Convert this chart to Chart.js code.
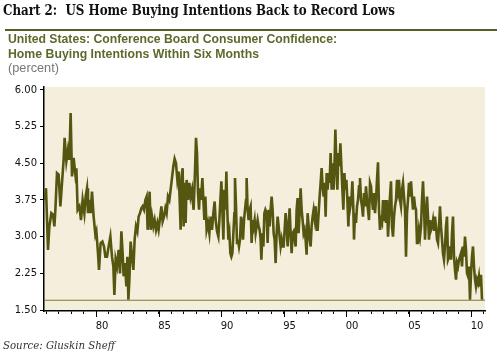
<!DOCTYPE html>
<html>
<head>
<meta charset="utf-8">
<script src="https://cdn.jsdelivr.net/npm/chart.js@4.4.0/dist/chart.umd.min.js"></script>
<style>
  html, body { margin:0; padding:0; background:#fff; }
  #wrap { position:relative; width:500px; height:357px; overflow:hidden; }
  canvas { position:absolute; left:0; top:0; }
  .t { position:absolute; white-space:nowrap; transform-origin:0 0; display:inline-block; }
  #title { left:3px; top:2px; font-family:"DejaVu Serif", serif; font-weight:bold; font-size:14px; line-height:16px; color:#111; }
  #rule { position:absolute; left:5px; top:29px; width:492px; height:2px; background:#5b5e22; }
  #sub1 { left:8px; top:32px; font-family:"Liberation Sans", Arial, sans-serif; font-weight:bold; font-size:12px; line-height:14px; color:#5b6a2b; }
  #sub2 { left:8px; top:47px; font-family:"Liberation Sans", Arial, sans-serif; font-weight:bold; font-size:12px; line-height:14px; color:#5b6a2b; }
  #sub3 { left:8px; top:61px; font-family:"Liberation Sans", Arial, sans-serif; font-size:12px; line-height:14px; color:#777; }
  #src { left:3px; top:339px; font-family:"DejaVu Serif", serif; font-style:italic; font-size:11px; line-height:14px; color:#333; }
</style>
</head>
<body>
<div id="wrap">
  <canvas id="c" width="500" height="357"></canvas>
  <div class="t" id="title" data-w="392">Chart 2:&nbsp; US Home Buying Intentions Back to Record Lows</div>
  <div id="rule"></div>
  <div class="t" id="sub1" data-w="329">United States: Conference Board Consumer Confidence:</div>
  <div class="t" id="sub2" data-w="251">Home Buying Intentions Within Six Months</div>
  <div class="t" id="sub3" data-w="51">(percent)</div>
  <div class="t" id="src" data-w="112">Source: Gluskin Sheff</div>
</div>
<script>
// ---- data (decimal year, percent) ----
const dates = [
1975.89,1976.00,1976.16,1976.27,1976.43,1976.56,1976.67,1976.75,1976.88,1977.01,1977.15,1977.28,1977.41,1977.49,1977.63,1977.76,1977.87,1977.97,
1978.08,1978.21,1978.35,1978.43,1978.53,1978.67,1978.80,1978.93,1979.07,1979.17,1979.28,1979.36,1979.47,1979.57,1979.68,1979.81,1979.95,
1980.03,1980.16,1980.24,1980.37,1980.51,1980.64,1980.75,1980.88,1981.01,1981.15,1981.28,1981.39,1981.47,1981.57,1981.68,
1981.73,1981.81,1981.92,1982.03,1982.13,1982.21,1982.32,1982.43,1982.51,1982.59,1982.67,1982.77,1982.88,1982.99,
1983.09,1983.20,1983.31,1983.41,1983.52,1983.63,1983.73,1983.84,1983.95,1984.05,1984.13,1984.21,1984.29,1984.37,1984.48,1984.59,1984.69,1984.80,1984.91,
1985.01,1985.12,1985.23,1985.33,1985.44,1985.55,1985.65,1985.76,1985.87,1985.97,1986.08,1986.19,1986.29,1986.40,1986.51,1986.61,1986.72,1986.77,1986.85,1986.93,
1987.01,1987.09,1987.17,1987.25,1987.36,1987.47,1987.57,1987.68,
1987.73,1987.81,1987.89,1988.00,1988.08,1988.16,1988.24,1988.32,1988.40,1988.51,1988.59,1988.67,1988.75,1988.85,1988.96,
1989.07,1989.17,1989.28,1989.39,1989.49,1989.57,1989.68,1989.79,1989.87,1989.95,
1990.03,1990.11,1990.19,1990.27,1990.35,1990.43,1990.51,1990.59,1990.67,1990.75,1990.83,1990.91,1990.99,
1991.07,1991.12,1991.20,1991.28,1991.36,1991.44,1991.52,1991.60,1991.68,1991.76,1991.84,1991.92,
1992.00,1992.05,1992.13,1992.21,1992.29,1992.37,1992.45,1992.53,1992.61,1992.69,1992.77,1992.85,1992.93,
1993.01,1993.09,1993.17,1993.23,1993.31,1993.39,1993.47,1993.55,
1993.65,1993.73,1993.81,1993.89,1993.97,1994.05,1994.13,1994.21,1994.29,1994.37,1994.45,1994.53,1994.61,1994.69,1994.77,1994.85,1994.93,
1995.01,1995.09,1995.17,1995.25,1995.33,1995.41,1995.49,1995.57,1995.65,1995.73,1995.81,1995.89,1995.97,
1996.05,1996.13,1996.21,1996.29,1996.37,1996.45,1996.53,1996.61,1996.69,1996.77,1996.85,1996.93,
1997.01,1997.09,1997.17,1997.25,1997.33,1997.41,1997.49,1997.57,1997.65,1997.73,1997.81,1997.89,1997.97,
1998.05,1998.13,1998.21,1998.29,1998.37,1998.45,1998.53,1998.61,1998.69,1998.77,1998.85,1998.93,
1999.01,1999.09,1999.15,1999.23,1999.31,1999.39,1999.47,
1999.55,1999.63,1999.71,1999.79,1999.87,1999.95,
2000.03,2000.11,2000.19,2000.27,2000.35,2000.43,2000.51,2000.59,2000.64,2000.72,2000.80,2000.88,2000.96,
2001.04,2001.12,2001.20,2001.28,2001.36,2001.44,2001.52,2001.60,2001.68,2001.76,2001.84,2001.92,
2002.00,2002.08,2002.16,2002.24,2002.32,2002.40,2002.48,2002.56,2002.64,2002.72,2002.80,2002.88,2002.96,
2003.04,2003.12,2003.20,2003.28,2003.36,2003.44,2003.52,2003.60,2003.68,2003.76,2003.84,2003.92,
2004.00,2004.08,2004.16,2004.24,2004.32,2004.40,2004.48,2004.56,2004.64,2004.72,2004.80,2004.88,2004.96,
2005.04,2005.12,2005.20,2005.28,2005.36,
2005.44,2005.52,2005.60,2005.68,2005.76,2005.84,2005.92,
2006.00,2006.08,2006.16,2006.24,2006.32,2006.40,2006.48,2006.56,2006.64,2006.72,2006.80,2006.88,2006.96,
2007.04,2007.12,2007.20,2007.28,2007.36,2007.44,2007.52,2007.60,2007.68,2007.76,2007.84,2007.92,
2008.00,2008.08,2008.16,2008.24,2008.32,2008.40,2008.48,2008.56,2008.64,2008.72,2008.80,2008.88,2008.96,
2009.04,2009.12,2009.20,2009.28,2009.36,2009.44,2009.52,2009.60,2009.68,2009.76,2009.84,2009.92,
2010.00,2010.08,2010.16,2010.24,2010.32,2010.40,2010.48,2010.56,2010.64,2010.72,2010.80,2010.88
];
const homeBuying = [
3.75,3.99,2.73,3.21,3.48,3.45,3.21,3.55,4.30,4.27,3.62,4.10,4.57,5.02,4.54,4.78,4.57,5.53,
4.23,4.61,4.27,4.40,3.55,3.62,3.34,3.75,3.48,3.82,3.99,3.48,3.75,3.48,3.92,3.41,3.04,
3.11,2.66,2.32,2.87,2.90,2.80,2.59,2.59,2.80,3.00,2.59,2.39,1.81,2.53,2.39,
2.39,2.73,2.25,3.11,2.66,2.19,2.46,1.98,2.59,1.71,2.12,2.90,2.59,2.32,
2.94,3.21,3.11,3.41,3.48,3.58,3.62,3.55,3.75,3.82,3.14,3.48,3.92,3.14,3.41,3.21,3.34,3.14,3.28,
3.14,3.38,3.62,3.31,3.41,3.58,3.48,3.82,3.75,3.96,4.20,4.44,4.59,4.50,4.16,4.33,3.55,3.14,4.23,4.40,
3.21,4.10,3.28,4.16,3.75,4.10,3.82,3.96,
3.75,3.55,4.10,5.02,4.71,3.89,3.55,3.99,3.75,4.20,3.75,3.34,3.82,3.14,3.28,
3.07,3.41,3.14,3.48,3.72,3.34,3.11,3.00,3.34,3.75,
4.13,3.55,2.94,3.96,3.55,4.33,3.48,2.94,3.07,2.66,2.59,2.66,3.07,
3.48,4.20,3.62,2.87,2.94,2.80,2.94,3.41,3.28,2.94,3.34,3.55,
3.75,4.20,3.55,3.34,3.55,3.62,2.87,3.34,3.21,3.34,3.07,3.21,3.34,
3.21,3.14,2.94,2.53,3.07,2.80,3.48,3.55,
3.48,2.87,3.55,3.21,3.55,3.82,3.55,3.07,2.94,2.46,3.07,3.41,3.21,3.00,2.80,2.94,2.80,
2.80,3.14,3.48,3.21,2.80,3.21,3.58,3.07,2.66,3.07,3.11,2.94,2.80,
3.55,3.79,3.07,3.48,3.99,3.55,3.34,3.07,3.14,2.94,2.63,3.48,
3.21,2.94,2.80,3.21,3.41,3.55,3.38,3.62,3.14,3.14,3.48,3.82,4.10,
4.40,4.03,3.82,4.10,3.41,4.30,3.96,4.30,4.10,4.71,3.96,4.50,
3.96,4.57,5.19,4.44,3.96,4.71,4.44,
4.91,4.44,3.96,3.55,4.30,3.96,
4.16,3.75,3.21,3.82,3.62,3.75,4.13,3.55,2.94,3.48,3.28,3.62,3.75,
4.03,4.20,3.75,3.62,3.41,3.89,3.62,4.03,3.75,3.55,3.34,4.10,
4.03,3.75,3.55,3.89,3.48,3.75,4.16,4.52,3.55,3.14,3.34,3.28,3.75,
3.34,3.75,3.28,3.75,3.00,3.41,3.82,4.13,3.21,3.00,3.41,3.62,
3.75,4.16,3.96,4.16,3.75,3.62,3.96,4.10,3.82,3.55,2.59,3.48,3.75,
4.10,3.82,4.13,3.82,3.55,
3.82,3.62,3.55,2.87,2.87,3.14,3.00,
3.21,3.75,4.13,3.62,2.94,3.41,3.82,3.41,2.94,3.34,3.14,3.21,3.34,
3.14,3.41,3.21,2.94,2.87,3.21,3.62,3.21,2.94,2.66,2.53,2.80,
3.21,3.41,2.53,2.59,2.80,2.53,3.07,3.41,2.59,2.32,2.12,2.46,2.39,
2.53,2.59,2.66,2.39,2.80,2.59,3.00,2.73,2.25,2.19,2.39,1.71,
2.25,2.59,2.80,2.39,2.12,1.98,2.12,2.05,2.19,1.98,2.22,1.71
];
const recordLow = 1.70;
const yTicks = [1.50, 2.25, 3.00, 3.75, 4.50, 5.25, 6.00];
const xTickYears = [1976,1977,1978,1979,1980,1981,1982,1983,1984,1985,1986,1987,1988,1989,1990,1991,1992,1993,1994,1995,1996,1997,1998,1999,2000,2001,2002,2003,2004,2005,2006,2007,2008,2009,2010,2011];
const xMin = 1975.84, xMax = 2011.12;

const series = dates.map((d, i) => ({ x: d, y: homeBuying[i] }));
const lowLine = [{ x: xMin, y: recordLow }, { x: xMax, y: recordLow }];

const plotBg = {
  id: 'plotBg',
  beforeDraw(chart) {
    const { ctx, chartArea: a } = chart;
    ctx.save();
    ctx.fillStyle = '#f4eedc';
    ctx.fillRect(a.left, a.top, a.right - a.left, a.bottom - a.top);
    ctx.restore();
  }
};
const majorTicks = {
  id: 'majorTicks',
  afterDraw(chart) {
    const { ctx, chartArea: a } = chart;
    const xs = chart.scales.x;
    ctx.save();
    ctx.strokeStyle = '#000';
    ctx.lineWidth = 1;
    xTickYears.filter(y => y % 5 === 0).forEach(y => {
      const px = Math.round(xs.getPixelForValue(y)) + 0.5;
      ctx.beginPath();
      ctx.moveTo(px, a.bottom);
      ctx.lineTo(px, a.bottom + 6);
      ctx.stroke();
    });
    ctx.restore();
  }
};

new Chart(document.getElementById('c'), {
  type: 'line',
  data: {
    datasets: [
      { data: series, borderColor: '#545710', borderWidth: 2.6, pointRadius: 0, tension: 0, order: 1 },
      { data: lowLine, borderColor: '#7d7b2c', borderWidth: 1.2, pointRadius: 0, tension: 0, order: 2 }
    ]
  },
  options: {
    animation: false,
    responsive: false,
    devicePixelRatio: 1,
    plugins: { legend: { display: false }, tooltip: { enabled: false } },
    layout: { padding: { left: 0, top: 87, right: 15, bottom: 0 } },
    scales: {
      x: {
        type: 'linear',
        min: xMin, max: xMax,
        afterBuildTicks: s => { s.ticks = xTickYears.map(v => ({ value: v })); },
        afterFit: s => { s.height = 46; },
        grid: { drawOnChartArea: false, drawTicks: true, tickLength: 3, color: '#000', tickColor: '#000' },
        border: { display: true, color: '#000', width: 1.5 },
        ticks: {
          autoSkip: false, maxRotation: 0, minRotation: 0, labelOffset: 6, padding: 6,
          font: { family: 'DejaVu Sans', size: 10 }, color: '#111',
          callback: v => (v % 5 === 0 ? String(v % 100).padStart(2, '0') : '')
        }
      },
      y: {
        type: 'linear',
        min: 1.48, max: 6.06,
        afterBuildTicks: s => { s.ticks = yTicks.map(v => ({ value: v })); },
        afterFit: s => { s.width = 44; },
        grid: { drawOnChartArea: false, drawTicks: true, tickLength: 4, color: '#000', tickColor: '#000' },
        border: { display: true, color: '#000', width: 1.5 },
        ticks: {
          padding: 3,
          font: { family: 'DejaVu Sans', size: 10 }, color: '#111',
          callback: v => Number(v).toFixed(2)
        }
      }
    }
  },
  plugins: [plotBg, majorTicks]
});

// fit text boxes to measured reference widths
document.querySelectorAll('.t[data-w]').forEach(el => {
  const w = el.getBoundingClientRect().width;
  const target = parseFloat(el.dataset.w);
  if (w > 0) el.style.transform = 'scaleX(' + (target / w) + ')';
});
</script>
</body>
</html>
